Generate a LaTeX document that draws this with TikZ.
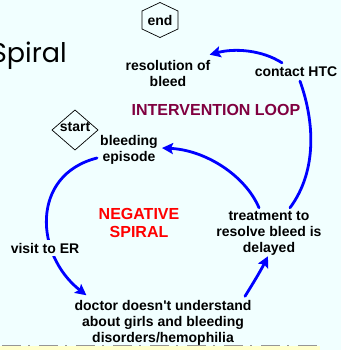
\documentclass[tikz,border=0pt]{standalone}
\usepackage{fontspec}
\setmainfont{Liberation Sans}[Ligatures=TeXOff]
\newfontfamily\titlefont{Poppins}
\usetikzlibrary{arrows.meta,calc}
\definecolor{paper}{RGB}{241,255,255}
\definecolor{loopcol}{RGB}{128,0,64}
\definecolor{flow}{RGB}{0,0,255}
\definecolor{boxfill}{RGB}{255,255,204}
\definecolor{boxedge}{RGB}{150,150,150}
\pgfdeclarelayer{paperlayer}
\pgfdeclarelayer{edgelayer}
\pgfsetlayers{paperlayer,edgelayer,main}
\tikzset{
  lbl/.style={inner sep=0pt, align=center, font=\bfseries\fontsize{14}{16}\selectfont},
  biglbl/.style={inner sep=0pt, align=center, font=\bfseries\fontsize{16}{18}\selectfont},
  flowline/.style={draw=flow, line width=2.8pt, line cap=round},
  flowarrow/.style={flowline, -{Stealth[length=11pt,width=11pt,inset=2pt]}},
  outline/.style={draw=black, line width=0.7pt, line join=miter}
}
\begin{document}
\begin{tikzpicture}[x=1pt,y=-1pt]
\begin{pgfonlayer}{paperlayer}
  \fill[paper, use as bounding box] (0,0) rectangle (341,350);
\end{pgfonlayer}
\clip (0,0) rectangle (341,350);

% slide title fragment
\node[anchor=base east, inner sep=0pt, font=\titlefont\fontsize{27}{30}\selectfont] (title) at (67,63) {Spiral};

% terminal marks
\node[lbl] (end) at (160,20) {end};
\draw[outline, shift={(end.center)}] (0,-17.5) -- (18,-9) -- (18,9) -- (0,17.5) -- (-18,9) -- (-18,-9) -- cycle;
\node[lbl] (start) at (75,127) {start};
\draw[outline, shift={(start.center)}] (0,-17) -- (23,3) -- (0,23) -- (-23,3) -- cycle;

% states of the loop
\node[lbl] (res) at (168,73) {resolution of\\bleed};
\node[lbl, fill=paper, inner sep=1pt] (htc) at (296,72) {contact HTC};
\node[biglbl, text=loopcol] (loop) at (216,110) {INTERVENTION LOOP};
\node[lbl] (bleed) at (129,150) {bleeding\\episode};
\node[biglbl, text=red] (neg) at (139,223) {NEGATIVE\\SPIRAL};
\node[lbl] (treat) at (269,233) {treatment to\\resolve bleed is\\delayed};
\node[lbl, fill=paper, inner sep=3pt] (er) at (45,248) {visit to ER};
\node[lbl] (doctor) at (163,323) {doctor doesn't understand\\about girls and bleeding\\disorders/hemophilia};

% connectors
\begin{pgfonlayer}{edgelayer}
  \draw[flowarrow] ([shift={(-3,8)}]bleed.west) .. controls (30,175) and (35,255) .. ([shift={(12,-5)}]doctor.north west);
  \draw[flowarrow] ([shift={(82,-4)}]doctor.north) .. controls (252,285) and (260,272) .. ([shift={(-1,1)}]treat.south);
  \draw[flowarrow] ([shift={(-10,-3)}]treat.north) .. controls (245,175) and (205,150) .. ([shift={(4,-2)}]bleed.east);
  \draw[flowline] ([shift={(21,-3)}]treat.north) .. controls (318,170) and (314,120) .. ([shift={(4,3)}]htc.south);
  \draw[flowarrow] ([shift={(-14,-3)}]htc.north) .. controls (262,50) and (235,48) .. ([shift={(-1,-5)}]res.north east);
\end{pgfonlayer}

% edge of the next panel along the bottom
\fill[boxfill] (0,346) rectangle (320,352);
\draw[boxedge, line width=1.6pt, dash pattern=on 19pt off 7pt on 2pt off 9pt] (2,345.5) -- (320,345.5);
\end{tikzpicture}
\end{document}
